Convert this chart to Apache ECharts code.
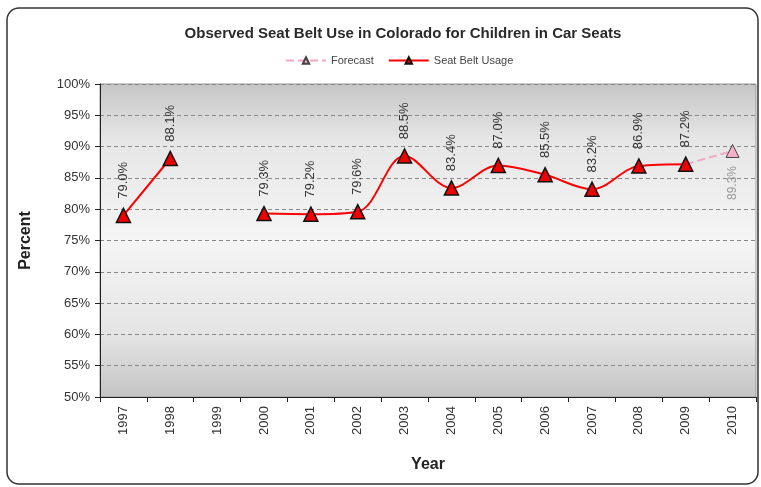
<!DOCTYPE html>
<html>
<head>
<meta charset="utf-8">
<script src="https://cdn.jsdelivr.net/npm/echarts@6/dist/echarts.min.js"></script>
<style>
  html, body { margin: 0; padding: 0; background: #fff; }
  #chart { width: 761px; height: 487px; }
</style>
</head>
<body>
<div id="chart"></div>
<script>
  // chart data
  const years = ['1997', '1998', '1999', '2000', '2001', '2002', '2003', '2004', '2005', '2006', '2007', '2008', '2009', '2010'];
  const usage = [79.0, 88.1, null, 79.3, 79.2, 79.6, 88.5, 83.4, 87.0, 85.5, 83.2, 86.9, 87.2, null];
  const forecast = [null, null, null, null, null, null, null, null, null, null, null, null, 87.2, 89.3];
  const yTicks = [50, 55, 60, 65, 70, 75, 80, 85, 90, 95, 100];

  const chart = echarts.init(document.getElementById('chart'));
  const font = 'Liberation Sans, Arial, sans-serif';

  chart.setOption({
    backgroundColor: '#fff',
    animation: false,
    textStyle: { fontFamily: font },
    graphic: [
      {
        type: 'rect',
        shape: { x: 7, y: 8, width: 751, height: 476, r: 12 },
        style: { fill: 'none', stroke: '#333', lineWidth: 1.5 },
        z: 100
      }
    ],
    title: {
      text: 'Observed Seat Belt Use in Colorado for Children in Car Seats',
      left: 398,
      textAlign: 'center',
      top: 21,
      textStyle: { fontSize: 15, fontWeight: 'bold', color: '#2a2a2a', fontFamily: font }
    },
    legend: {
      top: 50,
      left: 280,
      itemWidth: 40,
      itemHeight: 8,
      itemGap: 14,
      textStyle: { fontSize: 11, color: '#444' },
      data: ['Forecast', 'Seat Belt Usage']
    },
    grid: {
      left: 100,
      right: 5,
      top: 84,
      bottom: 90,
      show: true,
      borderColor: '#999',
      borderWidth: 1,
      backgroundColor: new echarts.graphic.LinearGradient(0, 0, 0, 1, [
        { offset: 0, color: '#c6c6c6' },
        { offset: 0.18, color: '#e6e6e6' },
        { offset: 0.5, color: '#f5f5f5' },
        { offset: 0.8, color: '#e4e4e4' },
        { offset: 1, color: '#c4c4c4' }
      ])
    },
    xAxis: {
      type: 'category',
      data: years,
      boundaryGap: true,
      name: 'Year',
      nameLocation: 'middle',
      nameGap: 60,
      nameTextStyle: { fontSize: 16, fontWeight: 'bold', color: '#222' },
      axisLine: { lineStyle: { color: '#222', width: 1 } },
      axisTick: { show: true, alignWithLabel: false, length: 5, lineStyle: { color: '#222' } },
      axisLabel: { rotate: 90, fontSize: 13, color: '#333', margin: 9 },
      splitLine: { show: false }
    },
    yAxis: {
      type: 'value',
      min: yTicks[0],
      max: yTicks[yTicks.length - 1],
      interval: 5,
      name: 'Percent',
      nameLocation: 'middle',
      nameGap: 66,
      nameTextStyle: { fontSize: 16, fontWeight: 'bold', color: '#222' },
      axisLine: { show: true, lineStyle: { color: '#222', width: 1 } },
      axisTick: { show: true, length: 5, lineStyle: { color: '#222' } },
      axisLabel: { fontSize: 13, color: '#333', margin: 10, formatter: v => v + '%' },
      splitLine: { lineStyle: { color: '#888', type: [4, 3], width: 1 } }
    },
    series: [
      {
        name: 'Forecast',
        type: 'line',
        data: forecast,
        symbol: 'triangle',
        symbolSize: 13,
        showSymbol: true,
        lineStyle: { color: '#f4a6c4', width: 2, type: 'dashed' },
        itemStyle: { color: '#f4b0c8', borderColor: '#444', borderWidth: 1 },
        label: {
          show: true,
          position: 'bottom',
          rotate: 90,
          align: 'right',
          verticalAlign: 'middle',
          distance: 8,
          fontSize: 12,
          color: '#999',
          formatter: p => p.dataIndex === years.length - 1 ? p.value.toFixed(1) + '%' : ''
        },
        z: 2
      },
      {
        name: 'Seat Belt Usage',
        type: 'line',
        data: usage,
        smooth: 0.35,
        connectNulls: false,
        symbol: 'triangle',
        symbolSize: 14,
        lineStyle: { color: '#f00', width: 2 },
        itemStyle: { color: '#e00', borderColor: '#111', borderWidth: 1.5 },
        label: {
          show: true,
          position: 'top',
          rotate: 90,
          align: 'left',
          verticalAlign: 'middle',
          distance: 9,
          fontSize: 13,
          color: '#333',
          formatter: p => p.value.toFixed(1) + '%'
        },
        z: 3
      }
    ]
  });
</script>
</body>
</html>
